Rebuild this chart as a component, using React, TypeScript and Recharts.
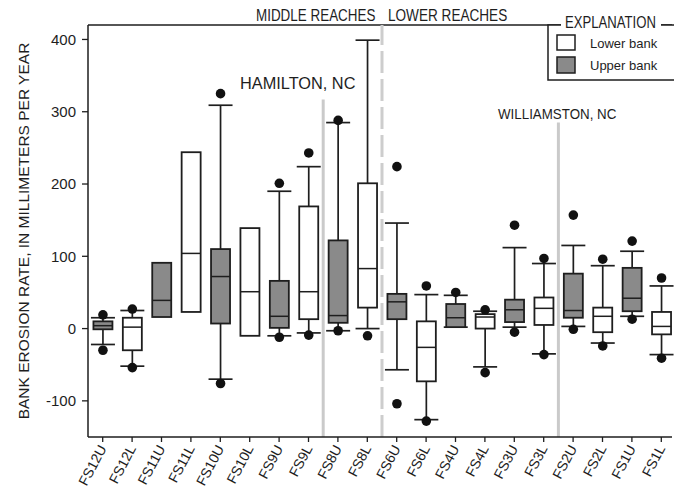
import React from 'react';
import { ComposedChart, Bar, XAxis, YAxis, ReferenceLine } from 'recharts';

// Bank erosion rates (mm/yr) per site
const categories = ['FS12U', 'FS12L', 'FS11U', 'FS11L', 'FS10U', 'FS10L', 'FS9U', 'FS9L', 'FS8U', 'FS8L',
  'FS6U', 'FS6L', 'FS4U', 'FS4L', 'FS3U', 'FS3L', 'FS2U', 'FS2L', 'FS1U', 'FS1L'];
const dotHigh = [19, 27, null, null, 325, null, 201, 243, 288, null, 224, 59, 50, 26, 143, 97, 157, 96, 121, 70];
const whiskerHigh = [15, 25, null, null, 309, null, 190, 224, 285, 399, 146, 47, 46, 24, 112, 90, 115, 87, 107, 59];
const q3 = [10, 15, 91, 244, 110, 139, 66, 169, 122, 201, 48, 10, 34, 20, 40, 43, 76, 29, 84, 23];
const median = [4, 2, 39, 104, 72, 51, 17, 51, 18, 83, 37, -26, 15, 16, 26, 28, 25, 17, 42, 3];
const q1 = [-1, -30, 16, 23, 7, -10, 1, 13, 8, 29, 13, -73, 2, 0, 9, 5, 15, -5, 24, -8];
const whiskerLow = [-22, -52, null, null, -70, null, -10, -6, -3, 0, -57, -126, 2, -53, 2, -35, 3, -20, 17, -36];
const dotLow = [-30, -54, null, null, -76, null, -12, -9, -3, -10, -104, -128, null, -61, -5, -36, -1, -24, 13, -41];

const yTicks = [-100, 0, 100, 200, 300, 400];
const minorTicks = Array.from({ length: 57 }, (_, i) => -150 + i * 10);

const data = categories.map((site, i) => ({
  site,
  upper: site.endsWith('U'),
  dotHi: dotHigh[i],
  hi: whiskerHigh[i],
  q3: q3[i],
  med: median[i],
  q1: q1[i],
  lo: whiskerLow[i],
  dotLo: dotLow[i],
  span: [whiskerLow[i] ?? q1[i], whiskerHigh[i] ?? q3[i]],
}));

const INK = '#1e1e1e';
const GRAY_FILL = '#8a8a8a';
const SANS = "'Liberation Sans', Arial, sans-serif";

// draws whiskers, box, median and the two outlier dots from the bar's own scale
function BoxShape(props: any) {
  const { x, y, width, height, payload } = props;
  const top = Math.min(y, y + height);
  const bot = Math.max(y, y + height);
  const [vLo, vHi] = payload.span;
  const px = (v: number) => top + ((vHi - v) / (vHi - vLo)) * (bot - top);
  const cx = x + width / 2;
  const bw = 19;
  const cw = 24;
  return (
    <g>
      {payload.hi != null && (
        <>
          <line x1={cx} x2={cx} y1={px(payload.hi)} y2={px(payload.q3)} stroke={INK} strokeWidth={1.7} />
          <line x1={cx - cw / 2} x2={cx + cw / 2} y1={px(payload.hi)} y2={px(payload.hi)} stroke={INK} strokeWidth={1.7} />
        </>
      )}
      {payload.lo != null && (
        <>
          <line x1={cx} x2={cx} y1={px(payload.q1)} y2={px(payload.lo)} stroke={INK} strokeWidth={1.7} />
          <line x1={cx - cw / 2} x2={cx + cw / 2} y1={px(payload.lo)} y2={px(payload.lo)} stroke={INK} strokeWidth={1.7} />
        </>
      )}
      <rect
        x={cx - bw / 2}
        y={px(payload.q3)}
        width={bw}
        height={px(payload.q1) - px(payload.q3)}
        fill={payload.upper ? GRAY_FILL : '#fff'}
        stroke={INK}
        strokeWidth={1.8}
      />
      <line x1={cx - bw / 2} x2={cx + bw / 2} y1={px(payload.med)} y2={px(payload.med)} stroke={INK} strokeWidth={1.5} />
      {payload.dotHi != null && <circle cx={cx} cy={px(payload.dotHi)} r={4.8} fill="#111" />}
      {payload.dotLo != null && <circle cx={cx} cy={px(payload.dotLo)} r={4.8} fill="#111" />}
    </g>
  );
}

function SiteTick(props: any) {
  const { x, y, payload } = props;
  return (
    <text x={x} y={y} dy="0.35em" textAnchor="end" transform={`rotate(-62 ${x} ${y})`}
      fontSize={14} fill={INK} fontFamily={SANS}>
      {payload.value}
    </text>
  );
}

// condensed caption text, squeezed horizontally like the scanned original
function Narrow({ x, y, sx = 0.84, size = 16, children }: any) {
  return (
    <text transform={`translate(${x} ${y}) scale(${sx} 1)`} fontSize={size} fill={INK} fontFamily={SANS}>
      {children}
    </text>
  );
}

function Annotations() {
  return (
    <svg width={674} height={498} style={{ position: 'absolute', left: 0, top: 0, pointerEvents: 'none' }}>
      <Narrow x={256} y={21}>MIDDLE REACHES</Narrow>
      <Narrow x={388} y={21} sx={0.85}>LOWER REACHES</Narrow>
      <Narrow x={240} y={89} sx={1.02}>HAMILTON, NC</Narrow>
      <Narrow x={498} y={118.5} sx={0.89} size={15}>WILLIAMSTON, NC</Narrow>

      <rect x={548} y={25} width={140} height={55} fill="#fff" stroke={INK} strokeWidth={1.5} />
      <rect x={561} y={14} width={100} height={14} fill="#fff" />
      <Narrow x={565} y={27.5} sx={0.82}>EXPLANATION</Narrow>
      <rect x={557} y={35} width={18} height={15} fill="#fff" stroke={INK} strokeWidth={1.5} />
      <text x={590} y={47.5} fontSize={13} fill={INK} fontFamily={SANS}>Lower bank</text>
      <rect x={557} y={57} width={18} height={16} fill={GRAY_FILL} stroke={INK} strokeWidth={1.5} />
      <text x={590} y={69.5} fontSize={13} fill={INK} fontFamily={SANS}>Upper bank</text>
    </svg>
  );
}

export default function App() {
  return (
    <div style={{ position: 'absolute', left: 0, top: 0, width: 674, height: 498, background: '#fff', overflow: 'hidden' }}>
      <ComposedChart width={674} height={498} data={data} margin={{ top: 25, right: 2, bottom: 6, left: 18 }}>
        <XAxis
          dataKey="site"
          interval={0}
          tickSize={5}
          tickMargin={4}
          height={55}
          padding={{ left: 0, right: -4 }}
          axisLine={{ stroke: INK, strokeWidth: 1.5 }}
          tickLine={{ stroke: INK, strokeWidth: 1.3 }}
          tick={<SiteTick />}
        />
        <YAxis
          domain={[-150, 420]}
          ticks={yTicks}
          width={70}
          tickSize={6}
          tickMargin={6}
          allowDataOverflow
          axisLine={{ stroke: INK, strokeWidth: 1.5 }}
          tickLine={{ stroke: INK, strokeWidth: 1.3 }}
          tick={{ fontSize: 15, fill: INK, fontFamily: SANS }}
          label={{
            value: 'BANK EROSION RATE, IN MILLIMETERS PER YEAR',
            angle: -90,
            position: 'insideLeft',
            offset: 5,
            style: { textAnchor: 'middle', fontSize: 15.5, fill: INK, fontFamily: SANS },
          }}
        />
        <YAxis yAxisId="minorL" orientation="left" mirror width={0} domain={[-150, 420]} allowDataOverflow
          ticks={minorTicks} tickSize={3} axisLine={false} tickFormatter={() => ''} tickLine={{ stroke: '#555' }} />
        <YAxis yAxisId="minorR" orientation="right" mirror width={0} domain={[-150, 420]} allowDataOverflow
          ticks={minorTicks} tickSize={3} axisLine={{ stroke: '#aaa' }} tickFormatter={() => ''} tickLine={{ stroke: '#777' }} />

        <ReferenceLine y={420} stroke={INK} strokeWidth={1.5} ifOverflow="visible" />
        <ReferenceLine position="start" segment={[{ x: 'FS8U', y: -150 }, { x: 'FS8U', y: 317 }]} stroke="#cacaca" strokeWidth={3} />
        <ReferenceLine position="start" x="FS6U" stroke="#cdcdcd" strokeWidth={3} strokeDasharray="22 6" />
        <ReferenceLine position="start" segment={[{ x: 'FS2U', y: -150 }, { x: 'FS2U', y: 285 }]} stroke="#cacaca" strokeWidth={3} />

        <Bar dataKey="span" shape={<BoxShape />} isAnimationActive={false} />
      </ComposedChart>
      <Annotations />
    </div>
  );
}
